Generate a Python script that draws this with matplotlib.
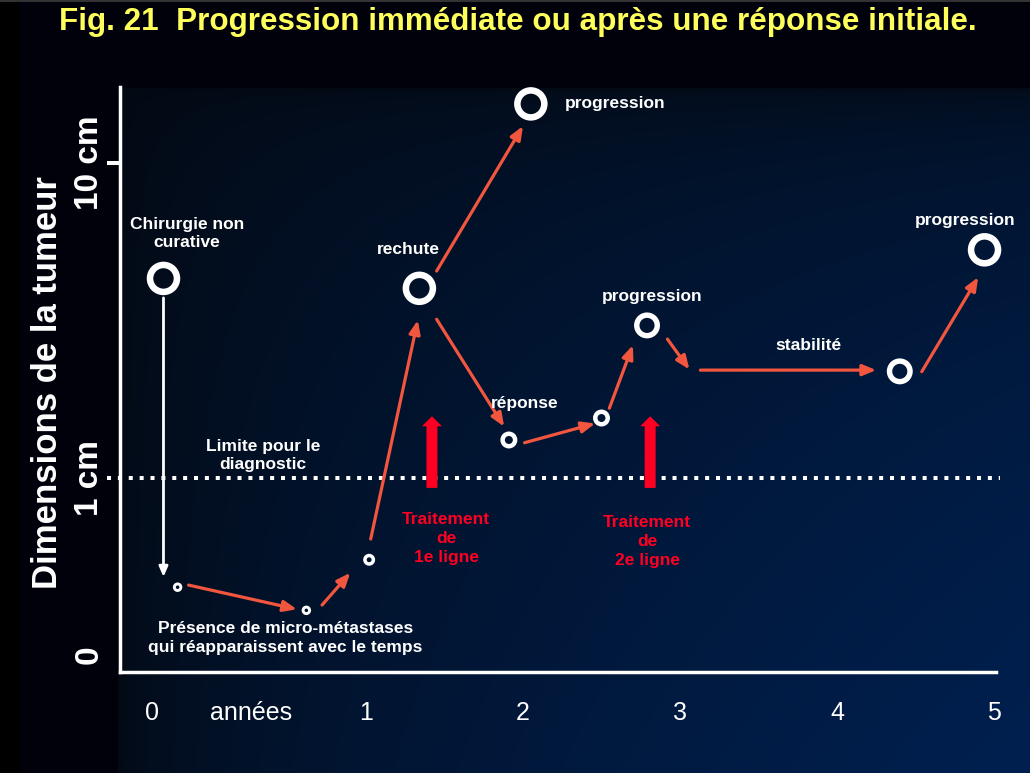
"""
Fig. 21 - progression immediate ou apres une reponse initiale
schematic slide redrawn with matplotlib
"""
import numpy as np
import matplotlib.pyplot as plt

plt.rcParams['font.family'] = ['Liberation Sans', 'DejaVu Sans']

# tumour size (cm) against time (years)
point_t = [-0.29, -0.20, 0.62, 1.02, 1.34, 2.05, 1.91, 2.50, 2.79, 4.40, 4.94]
point_cm = [4.3, 0.45, 0.38, 0.55, 4.0, 15.4, 1.32, 1.55, 3.05, 2.18, 5.3]
point_kind = ['big', 'tiny', 'tiny', 'small', 'big', 'big',
              'medium', 'medium', 'large', 'large', 'big']

# evolution arrows (start -> end)
arrow_t0 = [-0.13, 0.72, 1.03, 1.45, 1.45, 2.01, 2.55, 2.92, 3.13, 4.54]
arrow_cm0 = [0.457, 0.395, 0.64, 4.54, 3.19, 1.294, 1.665, 2.76, 2.20, 2.175]
arrow_t1 = [0.56, 0.90, 1.33, 2.00, 1.88, 2.46, 2.70, 3.06, 4.25, 4.90]
arrow_cm1 = [0.383, 0.50, 3.17, 13.1, 1.455, 1.49, 2.64, 2.21, 2.20, 4.34]

# surgery drop
surgery_t = -0.29
surgery_cm = [3.73, 0.485]

# treatment lines
treat_t = [1.42, 2.81]
treat_cm = [0.93, 1.57]
treat_labels = ['Traitement\nde\n1e ligne', 'Traitement\nde\n2e ligne']
treat_label_t = [1.51, 2.79]
treat_label_cm = [0.643, 0.628]

diag_limit_cm = 1.0
diag_t = [-0.65, 5.04]

labels = ['Chirurgie non\ncurative',
          'Présence de micro-métastases\nqui réapparaissent avec le temps',
          'Limite pour le\ndiagnostic', 'rechute', 'progression', 'réponse',
          'progression', 'stabilité', 'progression']
label_t = [-0.14, 0.487, 0.344, 1.269, 2.589, 2.013, 2.822, 3.82, 4.815]
label_cm = [5.97, 0.3105, 1.179, 5.32, 15.39, 1.718, 3.78, 2.624, 6.56]

xtick_pos = [-0.363, 0.268, 1, 2, 3, 4, 5]
xtick_labels = ['0', 'années', '1', '2', '3', '4', '5']
ytick_pos = [0.274, 1, 10]
ytick_labels = ['0', '1 cm', '10 cm']

ring_size = {'big': 377, 'large': 218, 'medium': 81, 'small': 37, 'tiny': 22}
ring_lw = {'big': 4.7, 'large': 3.9, 'medium': 3.2, 'small': 2.5, 'tiny': 2.1}

ORANGE = '#f2563e'
RED = '#ff0022'
YELLOW = '#ffff5c'

fig = plt.figure(figsize=(10.3, 7.73), dpi=100)

# background: dark frame + blue gradient panel
H, W = 773, 1030
bg = np.zeros((H, W, 3))
bg[:, :] = np.array([1, 1, 12]) / 255
bg[:, :20] = 0
bg[:2, :] = 0.2
yy, xx = np.mgrid[88:H, 118:W]
u = (xx - 118) / (W - 118)
v = (yy - 88) / (H - 88)
g = (u ** 0.5 * v ** 0.35)[..., None]
dark = np.array([3, 9, 18]) / 255
bright = np.array([0, 32, 80]) / 255
bg[88:, 118:] = dark * (1 - g) + bright * g
ax_bg = fig.add_axes([0, 0, 1, 1], zorder=-1)
ax_bg.imshow(bg, aspect='auto', interpolation='bilinear')
ax_bg.axis('off')

ax = fig.add_axes([0.1165, 0.1313, 0.8505, 0.7562])
ax.set_facecolor('none')
ax.set_yscale('log')
ax.set_xlim(-0.567, 5.013)
ax.set_ylim(0.243, 17.43)
ax.minorticks_off()

for side in ['top', 'right']:
    ax.spines[side].set_visible(False)
for side in ['left', 'bottom']:
    ax.spines[side].set_color('white')
    ax.spines[side].set_linewidth(2.5)

ax.set_xticks(xtick_pos, xtick_labels, fontsize=18, color='white')
ax.tick_params(axis='x', length=0, pad=21)
ax.set_yticks(ytick_pos, ytick_labels, fontsize=24, fontweight='bold',
              color='white', rotation=90, va='center')
ax.tick_params(axis='y', length=9.4, width=2.9, color='white', pad=1.5)
yticks = ax.yaxis.get_major_ticks()
yticks[0].tick1line.set_visible(False)
yticks[1].tick1line.set_visible(False)

ax.set_ylabel('Dimensions de la tumeur', fontsize=25, fontweight='bold',
              color='white')
ax.yaxis.set_label_coords(-0.0833, 0.4936)
ax.yaxis.label.set_va('center')

# limit of detection
ax.plot(diag_t, [diag_limit_cm, diag_limit_cm], color='white', lw=2.9,
        linestyle=(0, (1, 1.7)), dash_capstyle='butt', clip_on=False, zorder=2)

# surgery arrow
ax.annotate('', xy=(surgery_t, surgery_cm[1]), xytext=(surgery_t, surgery_cm[0]),
            arrowprops=dict(arrowstyle='-|>,head_length=6,head_width=2.6',
                            mutation_scale=1, color='white', lw=2.0,
                            shrinkA=0, shrinkB=0))

# evolution arrows
for t0, c0, t1, c1 in zip(arrow_t0, arrow_cm0, arrow_t1, arrow_cm1):
    ax.annotate('', xy=(t1, c1), xytext=(t0, c0),
                arrowprops=dict(arrowstyle='-|>,head_length=8,head_width=3.3',
                                mutation_scale=1, color=ORANGE, lw=2.3,
                                shrinkA=0, shrinkB=0), zorder=3)

# treatment arrows
for t, lab, lt, lc in zip(treat_t, treat_labels, treat_label_t, treat_label_cm):
    ax.annotate('', xy=(t, treat_cm[1]), xytext=(t, treat_cm[0]),
                arrowprops=dict(arrowstyle='simple,head_length=7.2,head_width=14.4,tail_width=7.9',
                                mutation_scale=1, fc=RED, ec='none', lw=0,
                                shrinkA=0, shrinkB=0), zorder=4)
    ax.text(lt, lc, lab, color=RED, fontsize=12.5, fontweight='bold',
            ha='center', va='center', linespacing=1.32)

# tumour rings
for kind in ring_size:
    ts = [t for t, k in zip(point_t, point_kind) if k == kind]
    cs = [c for c, k in zip(point_cm, point_kind) if k == kind]
    ax.scatter(ts, cs, s=ring_size[kind], facecolors='none', edgecolors='white',
               linewidths=ring_lw[kind], zorder=5, clip_on=False)

for lab, t, c in zip(labels, label_t, label_cm):
    ax.text(t, c, lab, color='white', fontsize=12.5, fontweight='bold',
            ha='center', va='center', linespacing=1.32)

fig.text(518 / 1030, 1 - 22 / 773,
         'Fig. 21  Progression immédiate ou après une réponse initiale.',
         color=YELLOW, fontsize=22.6, fontweight='bold', ha='center', va='center')

fig.savefig('out.png', dpi=100)
